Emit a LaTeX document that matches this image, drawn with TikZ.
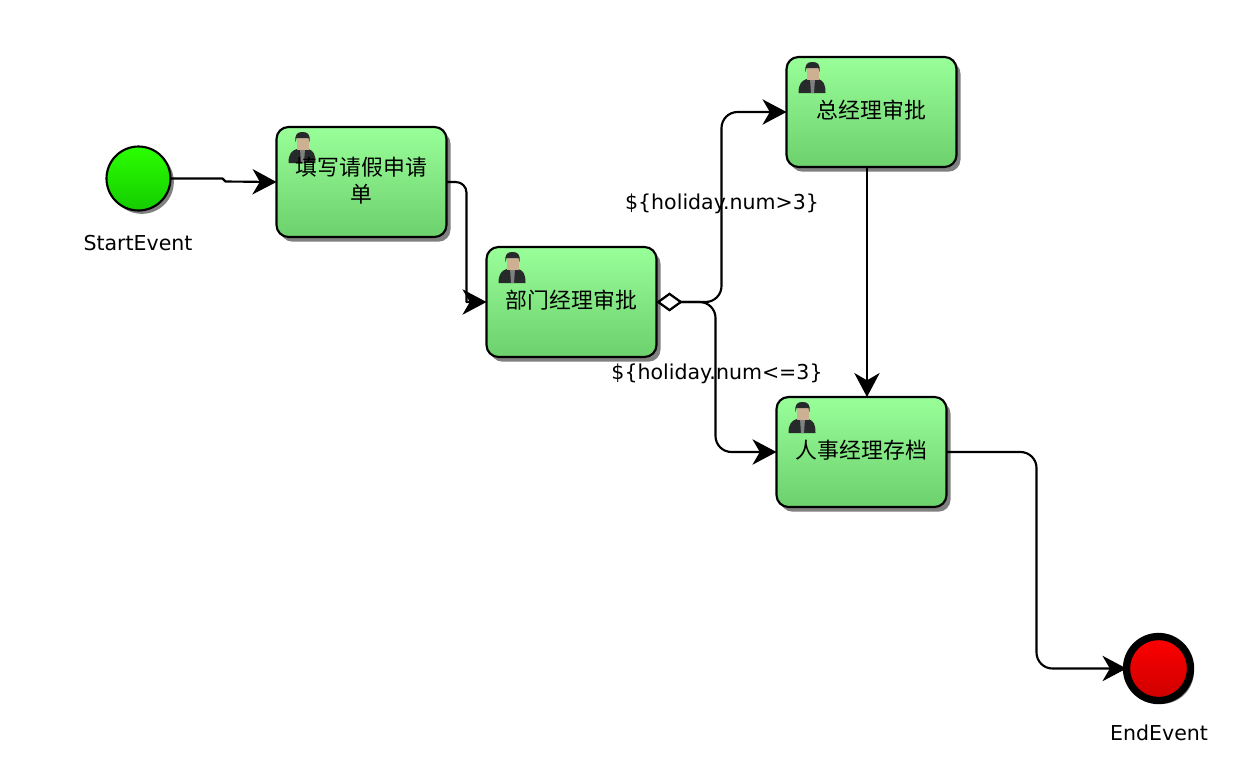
\documentclass[tikz,border=0pt]{standalone}
\usepackage{fontspec}
\setmainfont{DejaVu Sans}
\newfontfamily\cjk{Noto Sans CJK SC}
\usetikzlibrary{arrows.meta,shadows}
\definecolor{taskTop}{RGB}{153,255,153}
\definecolor{taskBottom}{RGB}{108,208,108}
\definecolor{startTop}{RGB}{43,255,0}
\definecolor{startBottom}{RGB}{20,204,0}
\definecolor{endTop}{RGB}{255,0,0}
\definecolor{endBottom}{RGB}{204,0,0}
\definecolor{skin}{RGB}{205,175,145}
\definecolor{suit}{RGB}{38,42,42}
\tikzset{
  every pic/.style={yscale=-1},
  clerk/.pic={
    \fill[suit] (12,36) .. controls (12,27) and (15,24) .. (20,22) -- (32,22) .. controls (37,24) and (39,27) .. (39,36) -- cycle;
    \fill[gray] (23.5,22) -- (28.5,22) -- (27.5,36) -- (24.5,36) -- cycle;
    \fill[skin] (20,10) rectangle (32,23);
    \fill[suit] (19,15) .. controls (18,7) and (21,5) .. (26,5) .. controls (31,5) and (34,7) .. (33,15) -- (32,11) -- (20,11) -- cycle;
  },
  task/.style={draw=black,line width=1.6pt,rounded corners=9pt,outer sep=0pt,inner sep=0pt,
    minimum width=127.5pt,minimum height=82.5pt,top color=taskTop,bottom color=taskBottom,
    drop shadow={shadow xshift=3pt,shadow yshift=-3.5pt,fill=black!50,opacity=1}},
  tasktext/.style={inner sep=0pt,align=center,font=\cjk\fontsize{16.4}{20}\selectfont},
  event/.style={circle,draw=black,outer sep=0pt,inner sep=0pt,minimum size=48pt,
    drop shadow={shadow xshift=2.5pt,shadow yshift=-2.5pt,fill=black!50,opacity=1}},
  caption/.style={inner sep=0pt,font=\fontsize{15.4}{18}\selectfont},
  flow/.style={draw=black,line width=1.6pt,line join=round,rounded corners=12pt,
    -{Stealth[length=18pt,width=19pt,inset=5.5pt]}},
  branch/.style={flow,{Diamond[length=19.5pt,width=14pt,fill=white]}-{Stealth[length=18pt,width=19pt,inset=5.5pt]}}
}
\begin{document}
\begin{tikzpicture}[x=0.75pt,y=0.75pt,yscale=-1]
\useasboundingbox (0,0) rectangle (1244,772);

%Events
\node[event,line width=1.6pt,top color=startTop,bottom color=startBottom] (start) at (138.5,178.5) {};
\node[event,line width=5.5pt,top color=endTop,bottom color=endBottom] (end) at (1158.5,668.5) {};

%Tasks
\node[task] (apply) at (361.5,182) {};
\node[task] (dept) at (571.5,302) {};
\node[task] (gm) at (871.5,112) {};
\node[task] (hr) at (861.5,452) {};
\pic at (apply.north west) {clerk};
\pic at (dept.north west) {clerk};
\pic at (gm.north west) {clerk};
\pic at (hr.north west) {clerk};

%Straight Lines
\draw[flow,sharp corners] (start.east) -- ++(52,0) -- ++(3,3) -- (apply.west);
\draw[flow,rounded corners=8pt] (apply.east) -- ++(20,0) [sharp corners] -- ++(0,120) -- (dept.west);
\draw[branch] (dept.east) -- ++(65,0) |- (gm.west);
\draw[branch] (dept.east) -- ++(59,0) |- (hr.west);
\draw[flow] ([xshift=-3.4pt]gm.south) -- ([xshift=4.1pt]hr.north);
\draw[flow] (hr.east) -- ++(90,0) |- (end.west);

% Text Node
\node[tasktext] (applytext) at (361.5,180.5) {填写请假申请\\单};
\node[tasktext] (depttext) at (571.5,300.5) {部门经理审批};
\node[tasktext] (gmtext) at (871.5,110.5) {总经理审批};
\node[tasktext] (hrtext) at (861.5,450.5) {人事经理存档};
\node[caption] (startlabel) at (138,243) {StartEvent};
\node[caption] (endlabel) at (1159,733) {EndEvent};
\node[caption] (gtlabel) at (722,204) {\$\{holiday.num>3\}};
\node[caption] (lelabel) at (717,374) {\$\{holiday.num<=3\}};

\end{tikzpicture}
\end{document}
